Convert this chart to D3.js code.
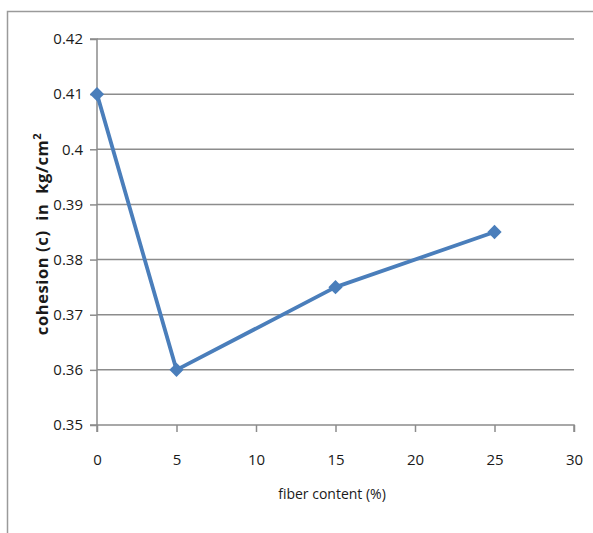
<!DOCTYPE html>
<html><head><meta charset="utf-8">
<script src="https://cdn.jsdelivr.net/npm/d3@7"></script>
<style>body{margin:0;background:#fff}svg{display:block}</style>
</head><body>
<svg id="c" width="593" height="533"></svg>
<script>
const fiber = [0, 5, 15, 25];
const cohesion = [0.41, 0.36, 0.375, 0.385];
const xTicks = [0, 5, 10, 15, 20, 25, 30];
const yTicks = [0.35, 0.36, 0.37, 0.38, 0.39, 0.40, 0.41, 0.42];
const yTickLabels = ["0.35","0.36","0.37","0.38","0.39","0.4","0.41","0.42"];

const svg = d3.select("#c");
const font = "'Open Sans', 'Liberation Sans', sans-serif";
const L = 97, R = 574, T = 39, B = 425;
const x = d3.scaleLinear().domain([0, 30]).range([L, R]);
const y = d3.scaleLinear().domain([0.35, 0.42]).range([B, T]);

// outer frame (left & top)
svg.append("path").attr("d", "M7.5,533V11.5H593").attr("fill","none").attr("stroke","#9a9a9a").attr("stroke-width",1.5);

// gridlines
svg.append("g").selectAll("line").data(yTicks.slice(1)).join("line")
  .attr("x1", L).attr("x2", R).attr("y1", d => y(d)).attr("y2", d => y(d))
  .attr("stroke", "#8c8c8c").attr("stroke-width", 1.5);

// axes
const ya = svg.append("g").attr("transform", `translate(${L},0)`)
  .call(d3.axisLeft(y).tickValues(yTicks).tickSize(7).tickPadding(7).tickFormat((d,i)=>yTickLabels[i]));
const xa = svg.append("g").attr("transform", `translate(0,${B})`)
  .call(d3.axisBottom(x).tickValues(xTicks).tickSize(7).tickPadding(22));
[ya, xa].forEach(a => {
  a.select(".domain").attr("stroke", "#8c8c8c").attr("stroke-width", 1.5);
  a.selectAll(".tick line").attr("stroke", "#8c8c8c").attr("stroke-width", 1.5);
  a.selectAll("text").attr("font-family", font).attr("font-size", 15).attr("fill", "#1a1a1a");
});
ya.select(".domain").attr("d", `M-7,${T}H0V${B}H-7`);
xa.select(".domain").attr("d", `M${L},7V0H${R}V7`);

// line + markers
const pts = fiber.map((f,i)=>[f, cohesion[i]]);
svg.append("path").datum(pts)
  .attr("d", d3.line().x(d=>x(d[0])).y(d=>y(d[1])))
  .attr("fill","none").attr("stroke","#4a7ebb").attr("stroke-width",3.8).attr("stroke-linejoin","round");
svg.append("g").selectAll("path").data(pts).join("path")
  .attr("d", d3.symbol(d3.symbolDiamond2, 130))
  .attr("transform", d => `translate(${x(d[0])},${y(d[1])})`)
  .attr("fill", "#4a7ebb");

// axis titles
svg.append("text").attr("x", 332).attr("y", 499).attr("text-anchor","middle")
  .attr("font-family", font).attr("font-size", 14).attr("fill","#1a1a1a").text("fiber content (%)");
const yt = svg.append("text").attr("transform","translate(48,234) rotate(-90)").attr("text-anchor","middle")
  .attr("font-family", font).attr("font-size", 16.5).attr("font-weight","bold").attr("fill","#1a1a1a")
  .attr("letter-spacing", 0.6);
yt.append("tspan").text("cohesion (c)\u00a0 in\u00a0 kg/cm");
yt.append("tspan").attr("dy",-7).attr("font-size",11).text("2");
</script>
</body></html>
